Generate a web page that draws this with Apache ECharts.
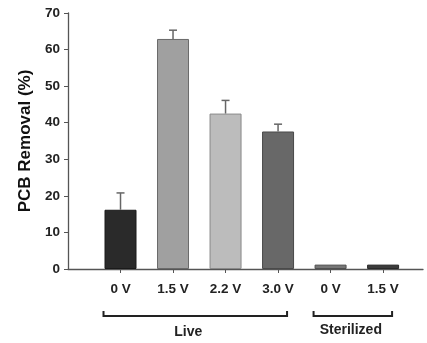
<!DOCTYPE html>
<html><head><meta charset="utf-8">
<script src="https://cdn.jsdelivr.net/npm/echarts@6/dist/echarts.min.js"></script>
<style>html,body{margin:0;padding:0;background:#fff}#c{width:427px;height:343px}</style>
</head><body><div id="c"></div>
<script>
const categories = ['0 V', '1.5 V', '2.2 V', '3.0 V', '0 V', '1.5 V'];
const removal = [16.2, 62.9, 42.5, 37.6, 1.2, 1.2];
const errorTop = [20.8, 65.3, 46.1, 39.6, null, null];
const barColors = ['#2a2a2a', '#a0a0a0', '#bcbcbc', '#686868', '#777777', '#3c3c3c'];
const borderColors = ['#1a1a1a', '#6a6a6a', '#8a8a8a', '#4a4a4a', '#505050', '#2a2a2a'];
const groups = ['Live', 'Sterilized'];
const groupStart = [1, 5];
const groupEnd = [4, 6];
const yTicks = [0, 10, 20, 30, 40, 50, 60, 70];

const positions = categories.map((c, i) => i + 1);
const chart = echarts.init(document.getElementById('c'), null, {renderer: 'canvas'});
const font = 'Liberation Sans, Arial, sans-serif';

chart.setOption({
  animation: false,
  grid: {left: 68, right: 4, top: 13, bottom: 74},
  xAxis: {
    type: 'value', min: 0, max: 6.76,
    axisLine: {show: true, lineStyle: {color: '#555', width: 1.3}},
    axisTick: {show: true, length: 4, customValues: positions, lineStyle: {color: '#555'}},
    axisLabel: {
      customValues: positions, margin: 13,
      formatter: v => categories[Math.round(v) - 1] || '',
      color: '#222', fontFamily: font, fontWeight: 'bold', fontSize: 13.5
    },
    splitLine: {show: false}
  },
  yAxis: {
    type: 'value', min: 0, max: 70, interval: 10,
    name: 'PCB Removal (%)', nameLocation: 'middle', nameGap: 33,
    nameTextStyle: {color: '#111', fontFamily: font, fontWeight: 'bold', fontSize: 17},
    axisLine: {show: true, lineStyle: {color: '#555', width: 1.3}},
    axisTick: {show: true, inside: false, length: 4, lineStyle: {color: '#555'}},
    axisLabel: {color: '#222', fontFamily: font, fontWeight: 'bold', fontSize: 13.5, margin: 8,
      formatter: v => yTicks.includes(v) ? String(v) : ''},
    splitLine: {show: false}
  },
  series: [
    {
      type: 'bar', barWidth: 32,
      data: removal.map((v, i) => ({
        value: [positions[i], v],
        itemStyle: {color: barColors[i], borderColor: borderColors[i], borderWidth: 1}
      })),
      z: 2
    },
    {
      type: 'custom', z: 3,
      data: removal.map((v, i) => [positions[i], v, errorTop[i]]).filter(d => d[2] != null),
      renderItem: (params, api) => {
        const p0 = api.coord([api.value(0), api.value(1)]);
        const p1 = api.coord([api.value(0), api.value(2)]);
        const st = {stroke: '#666', lineWidth: 1.5};
        return {type: 'group', children: [
          {type: 'line', shape: {x1: p0[0], y1: p0[1], x2: p1[0], y2: p1[1]}, style: st},
          {type: 'line', shape: {x1: p1[0] - 4, y1: p1[1], x2: p1[0] + 4, y2: p1[1]}, style: st}
        ]};
      }
    },
    {
      type: 'custom', z: 3, clip: false,
      data: groups.map((g, i) => [groupStart[i], groupEnd[i], i]),
      renderItem: (params, api) => {
        const i = api.value(2);
        const a = api.coord([api.value(0), 0]);
        const b = api.coord([api.value(1), 0]);
        const x1 = a[0] - 17, x2 = b[0] + 9;
        const y = a[1] + 47;
        const st = {stroke: '#222', lineWidth: 2, fill: null};
        return {type: 'group', children: [
          {type: 'polyline', shape: {points: [[x1, y - 5], [x1, y], [x2, y], [x2, y - 5]]}, style: st},
          {type: 'text', x: (x1 + x2) / 2 - (i === 0 ? 7 : 2), y: y + (i === 0 ? 16 : 14),
            style: {text: groups[i], fill: '#222', font: 'bold 14px ' + font, align: 'center', verticalAlign: 'middle'}}
        ]};
      }
    }
  ]
});
</script>
</body></html>
